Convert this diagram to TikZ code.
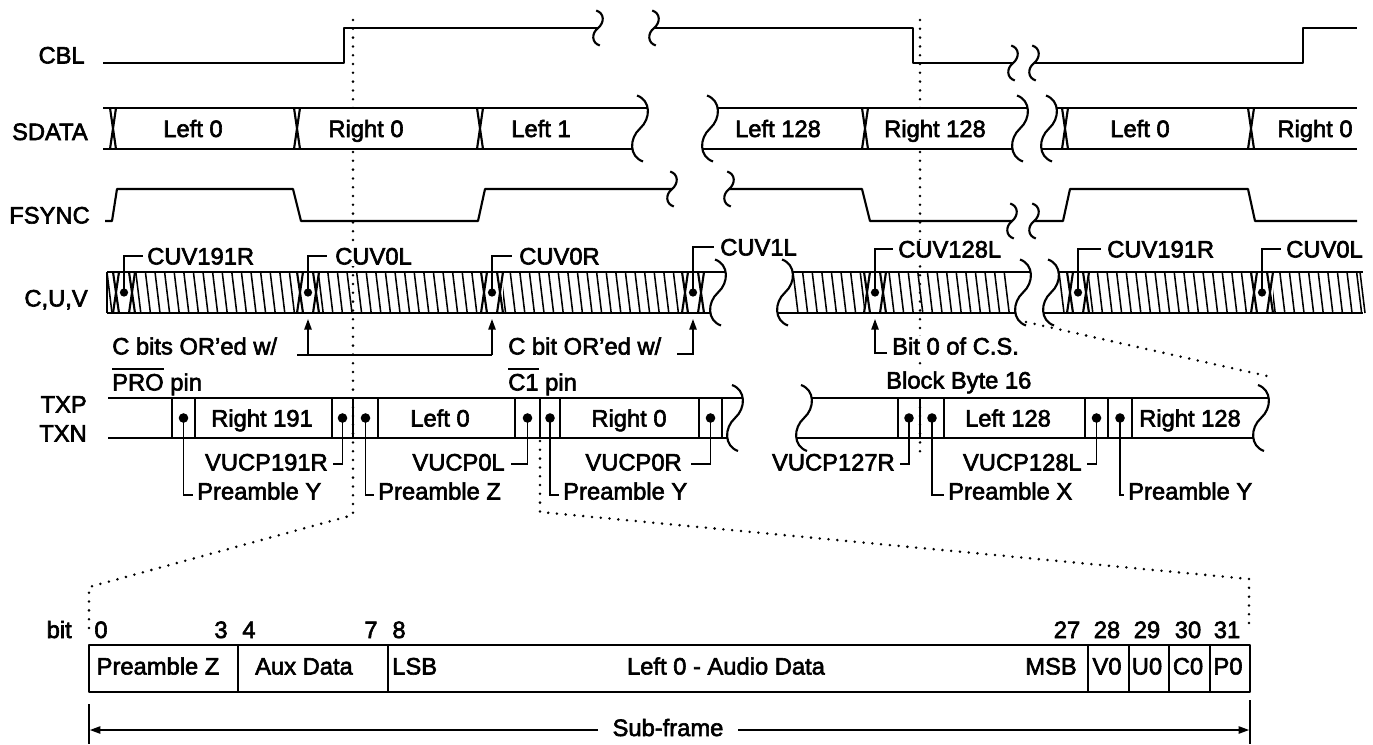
\documentclass[tikz,border=0pt]{standalone}
\usepackage{fontspec}
\setmainfont{Liberation Sans}[UprightFeatures={FakeBold=2.5}]
\usetikzlibrary{arrows.meta}
\newcommand\tf{\fontsize{17.8}{21}\selectfont}
\newcommand\ovl[1]{\leavevmode\setbox0\hbox{#1}\rlap{\rule[\dimexpr\ht0+3pt\relax]{\wd0}{1.2pt}}\box0\relax}
% squiggle: cx, cy, half height, amplitude
\newcommand\squig[4]{\draw[sig] ({#1-0.3*#4},{#2-#3}) .. controls ({#1+1.1*#4},{#2-0.85*#3}) and ({#1+1.1*#4},{#2-0.3*#3}) .. (#1,#2) .. controls ({#1-1.1*#4},{#2+0.3*#3}) and ({#1-1.1*#4},{#2+0.85*#3}) .. ({#1+0.3*#4},{#2+#3});}
% bus transition: x, top, bottom
\newcommand\busx[3]{\draw[sig] ({#1-3},#2) -- ({#1+3},#3) ({#1+3},#2) -- ({#1-3},#3);}
% CUV marker
\newcommand\cuvmark[1]{%
  \fill[white] ({#1-11},273.4) rectangle ({#1+11},311.6);
  \busx{#1-8}{272}{313}
  \busx{#1+8}{272}{313}
  \fill ({#1},292.5) circle[radius=3.1pt];}
\begin{document}
\begin{tikzpicture}[x=0.75pt,y=-0.75pt,
  sig/.style={line width=1.6pt,line join=round},
  thin/.style={line width=1.25pt},
  hatch/.style={line width=1.15pt},
  arr/.style={line width=1.25pt,-{Triangle[length=8pt,width=5.5pt]}},
  dots/.style={line width=2.1pt,dash pattern=on 0pt off 6.6pt,line cap=round},
  lbl/.style={inner sep=0pt,font=\tf},
  wlbl/.style={lbl,fill=white,inner ysep=1pt,inner xsep=0pt}]
\useasboundingbox (0,0) rectangle (1373,744);

% dotted guide lines
\draw[dots] (353,20) -- (353,515) -- (89,587) -- (89,628);
\draw[dots] (540,441) -- (540,512) -- (1249,579) -- (1249,624);
\draw[dots] (920,20) -- (920,456);
\draw[dots] (1026,322) -- (1267,376);

% row labels
\node[lbl,anchor=base east] (lcbl) at (85,63.5) {CBL};
\node[lbl,anchor=base east] (lsd) at (88,140) {SDATA};
\node[lbl,anchor=base east] (lfs) at (90,223.5) {FSYNC};
\node[lbl,anchor=base east] (lcuv) at (88,306.5) {C,U,V};
\node[lbl,anchor=base east] (ltxp) at (87,412.5) {TXP};
\node[lbl,anchor=base east] (ltxn) at (87,441.5) {TXN};

% CBL
\draw[sig] (103,63) -- (344,63) -- (344,28) -- (598,28);
\squig{598}{28}{17.5}{6}
\squig{654}{28}{17.5}{6}
\draw[sig] (654,28) -- (913,28) -- (913,63) -- (1013,63);
\squig{1013}{63}{17.5}{6}
\squig{1034}{63}{17.5}{6}
\draw[sig] (1034,63) -- (1303,63) -- (1303,28) -- (1357,28);

% SDATA
\fill[white] (103,108) rectangle (632,149);
\fill[white] (718,108) rectangle (1012,149);
\fill[white] (1042,108) rectangle (1357,149);
\draw[sig] (103,108) -- (647.6,108) (103,149) -- (632.4,149);
\squig{640}{128.5}{33}{10}
\squig{710}{128.5}{33}{10}
\draw[sig] (717.6,108) -- (1027.6,108) (702.4,149) -- (1012.4,149);
\squig{1020}{128.5}{33}{10}
\squig{1049}{128.5}{33}{10}
\draw[sig] (1056.6,108) -- (1357,108) (1041.4,149) -- (1357,149);
\foreach \t in {113,297,480,865,1065,1251} {\busx{\t}{108}{149}}
\node[lbl,anchor=base] (sd1) at (193,137) {Left 0};
\node[lbl,anchor=base] (sd2) at (366,137) {Right 0};
\node[lbl,anchor=base] (sd3) at (541,137) {Left 1};
\node[lbl,anchor=base] (sd4) at (778,137) {Left 128};
\node[lbl,anchor=base] (sd5) at (935,137) {Right 128};
\node[lbl,anchor=base] (sd6) at (1140,137) {Left 0};
\node[lbl,anchor=base] (sd7) at (1315,137) {Right 0};

% FSYNC
\draw[sig] (105,221) -- (112,221) -- (117,189) -- (293,189) -- (301,221) -- (478,221) -- (485,189) -- (672,189);
\squig{672}{189}{17.5}{6}
\squig{729}{189}{17.5}{6}
\draw[sig] (729,189) -- (862,189) -- (870,221) -- (1012,221);
\squig{1012}{221}{17.5}{6}
\squig{1034}{221}{17.5}{6}
\draw[sig] (1034,221) -- (1063,221) -- (1070,189) -- (1248,189) -- (1255,221) -- (1357,221);

% C,U,V band
\foreach \x in {107,116.6,...,680} {\draw[hatch] (\x,272) -- ({\x+5},313);}
\foreach \x in {793,802.6,...,1010} {\draw[hatch] (\x,272) -- ({\x+5},313);}
\foreach \x in {1059,1068.6,...,1358} {\draw[hatch] (\x,272) -- ({\x+5},313);}
\draw[hatch] (1360,272) -- (1365,313);
\draw[sig] (107,272) -- (725.6,272) (107,313) -- (710.4,313) (107,272) -- (107,313);
\squig{718}{292.5}{33}{10}
\squig{785}{292.5}{33}{10}
\draw[sig] (792.6,272) -- (1030.6,272) (777.4,313) -- (1015.4,313);
\squig{1023}{292.5}{33}{10}
\squig{1051}{292.5}{33}{10}
\draw[sig] (1058.6,272) -- (1363,272) (1043.4,313) -- (1363,313);
\foreach \d in {124,308,492,693,875,1078,1262} {\cuvmark{\d}}

% CUV labels and leaders
\node[wlbl,anchor=base west] (c1) at (147,264.5) {CUV191R};
\node[wlbl,anchor=base west] (c2) at (335,264.5) {CUV0L};
\node[wlbl,anchor=base west] (c3) at (519,264.5) {CUV0R};
\node[wlbl,anchor=base west] (c4) at (720,255.5) {CUV1L};
\node[wlbl,anchor=base west] (c5) at (898,257.5) {CUV128L};
\node[wlbl,anchor=base west] (c6) at (1107,257.5) {CUV191R};
\node[wlbl,anchor=base west] (c7) at (1286,257.5) {CUV0L};
\draw[thin] (124,292.5) |- (143,256);
\draw[thin] (308,292.5) |- (327,256);
\draw[thin] (492,292.5) |- (512,256);
\draw[thin] (693,292.5) |- (714,247);
\draw[thin] (875,292.5) |- (893,249);
\draw[thin] (1078,292.5) |- (1101,249);
\draw[thin] (1262,292.5) |- (1281,249);

% C bit annotations
\node[lbl,anchor=base west] (cb1) at (112,354.5) {C bits OR'ed w/};
\node[lbl,anchor=base west] (cb2) at (112,390.5) {\ovl{PRO} pin};
\node[lbl,anchor=base west] (cb3) at (508,354.5) {C bit OR'ed w/};
\node[lbl,anchor=base west] (cb4) at (508,390.5) {\ovl{C1} pin};
\node[wlbl,anchor=base west] (cb5) at (892,354.5) {Bit 0 of C.S.};
\node[wlbl,anchor=base west] (cb6) at (886,388.5) {Block Byte 16};
\coordinate (a1) at (297,355);
\draw[thin] (a1) -- (492,355);
\draw[arr] (308,355) -- (308,319);
\draw[arr] (492,355) -- (492,319);
\draw[arr] (677,354) -| (693,319);
\draw[arr] (887,353) -| (875,319);

% TXP / TXN
\draw[sig] (108,398) -- (742.6,398) (108,438) -- (727.4,438);
\squig{735}{418}{33}{10}
\squig{804}{418}{33}{10}
\draw[sig] (811.6,398) -- (1268.6,398) (796.4,438) -- (1253.4,438);
\squig{1261}{418}{33}{10}
\foreach \d in {172,195,332,353,378,515,540,560,699,722,898,920,944,1085,1108,1132} {\draw[sig] (\d,398) -- (\d,438);}
\foreach \d in {183.5,342.5,365.5,527.5,550,710.5,909,932,1096.5,1120} {\fill (\d,418) circle[radius=3.6pt];}
\node[lbl,anchor=base] (t1) at (262,426.5) {Right 191};
\node[lbl,anchor=base] (t2) at (440,426.5) {Left 0};
\node[lbl,anchor=base] (t3) at (629,426.5) {Right 0};
\node[lbl,anchor=base] (t4) at (1008,426.5) {Left 128};
\node[lbl,anchor=base] (t5) at (1190,426.5) {Right 128};

% TX leaders
\node[lbl,anchor=base east] (v1) at (328,470.5) {VUCP191R};
\node[lbl,anchor=base east] (v2) at (505,470.5) {VUCP0L};
\node[lbl,anchor=base east] (v3) at (682,470.5) {VUCP0R};
\node[lbl,anchor=base east] (v4) at (895,470.5) {VUCP127R};
\node[lbl,anchor=base east] (v5) at (1082,470.5) {VUCP128L};
\node[lbl,anchor=base west] (p1) at (197,499.5) {Preamble Y};
\node[lbl,anchor=base west] (p2) at (378,499.5) {Preamble Z};
\node[lbl,anchor=base west] (p3) at (563,499.5) {Preamble Y};
\node[lbl,anchor=base west] (p4) at (948,499.5) {Preamble X};
\node[lbl,anchor=base west] (p5) at (1128,499.5) {Preamble Y};
\draw[thin] (342.5,418) |- (333,464);
\draw[thin] (527.5,418) |- (511,464);
\draw[thin] (710.5,418) |- (691,464);
\draw[thin] (909,418) |- (900,464);
\draw[thin] (1096.5,418) |- (1087,464);
\draw[thin] (183.5,418) |- (193,495);
\draw[thin] (365.5,418) |- (374,495);
\draw[thin] (550,418) |- (559,495);
\draw[thin] (932,418) |- (944,495);
\draw[thin] (1120,418) |- (1124,495);

% sub-frame
\node[lbl,anchor=base east] (lbit) at (72,638) {bit};
\foreach \n/\x in {0/101,3/221,4/249,7/371,8/399,27/1067,28/1107,29/1147,30/1188,31/1227}
  {\node[lbl,anchor=base] (b\n) at (\x,638) {\n};}
\draw[sig] (89,645) rectangle (1250,692);
\foreach \d in {238,388,1088,1129,1169,1210} {\draw[sig] (\d,645) -- (\d,692);}
\node[lbl,anchor=base] (f1) at (158,674.5) {Preamble Z};
\node[lbl,anchor=base] (f2) at (304,674.5) {Aux Data};
\node[lbl,anchor=base west] (f3) at (392,674.5) {LSB};
\node[lbl,anchor=base] (f4) at (726,674.5) {Left 0 - Audio Data};
\node[lbl,anchor=base east] (f5) at (1077,674.5) {MSB};
\node[lbl,anchor=base] (f6) at (1107,674.5) {V0};
\node[lbl,anchor=base] (f7) at (1147,674.5) {U0};
\node[lbl,anchor=base] (f8) at (1188,674.5) {C0};
\node[lbl,anchor=base] (f9) at (1228,674.5) {P0};
\draw[sig] (89,704) -- (89,744);
\draw[sig] (1250,700) -- (1250,744);
\node[lbl,anchor=base] (sf) at (668,736) {Sub-frame};
\coordinate (sfl) at (89.8,730);
\coordinate (sfr) at (1249.2,730);
\draw[arr] (598,730) -- (sfl);
\draw[arr] (738,730) -- (sfr);
\end{tikzpicture}
\end{document}
